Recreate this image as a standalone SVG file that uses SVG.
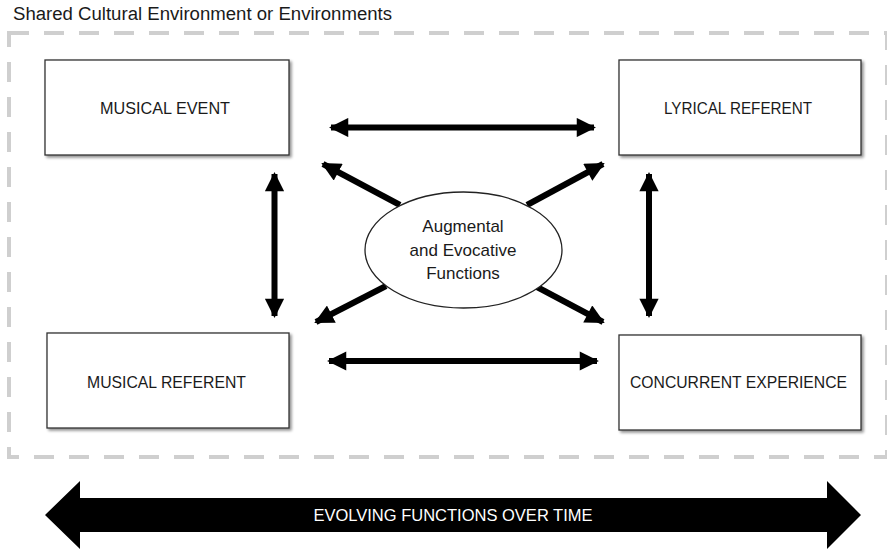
<svg xmlns="http://www.w3.org/2000/svg" width="887" height="550" viewBox="0 0 887 550">
<defs>
<filter id="sh" x="-10%" y="-10%" width="120%" height="130%">
<feGaussianBlur in="SourceAlpha" stdDeviation="1.5"/>
<feOffset dx="1.5" dy="1.5" result="b"/>
<feComponentTransfer><feFuncA type="linear" slope="0.45"/></feComponentTransfer>
<feMerge><feMergeNode/><feMergeNode in="SourceGraphic"/></feMerge>
</filter>
<marker id="ah" viewBox="0 0 10 10" refX="9" refY="5" markerWidth="3.3" markerHeight="3.2" orient="auto-start-reverse" markerUnits="strokeWidth">
<path d="M0,0 L10,5 L0,10 Z" fill="#000"/>
</marker>
</defs>
<style>
text{font-family:"Liberation Sans",Arial,sans-serif;fill:#1a1a1a}
.box{fill:#fff;stroke:#333;stroke-width:1.3;filter:url(#sh)}
.lbl{font-size:16.5px;text-anchor:middle}
.con{stroke:#000;stroke-width:6;fill:none;marker-start:url(#ah);marker-end:url(#ah)}
</style>
<rect width="887" height="550" fill="#fff"/>
<text x="13" y="20" font-size="18" textLength="379" lengthAdjust="spacingAndGlyphs">Shared Cultural Environment or Environments</text>
<rect id="environment" x="9" y="33" width="878" height="424" fill="none" stroke="#cfcfcf" stroke-width="4" stroke-dasharray="20 15"/>
<g id="connectors">
<line class="con" x1="331" y1="127.5" x2="594" y2="127.5"/>
<line class="con" x1="329" y1="361" x2="597" y2="361"/>
<line class="con" x1="274.5" y1="174" x2="274.5" y2="316"/>
<line class="con" x1="649" y1="174" x2="649" y2="316"/>
<line x1="400" y1="205" x2="323" y2="164" stroke="#000" stroke-width="6" marker-end="url(#ah)"/>
<line x1="527" y1="205" x2="603" y2="164" stroke="#000" stroke-width="6" marker-end="url(#ah)"/>
<line x1="386" y1="286" x2="316" y2="322" stroke="#000" stroke-width="6" marker-end="url(#ah)"/>
<line x1="537" y1="287" x2="603" y2="322" stroke="#000" stroke-width="6" marker-end="url(#ah)"/>
</g>
<g id="musical-event">
<rect class="box" x="45" y="60" width="244" height="95"/>
<text class="lbl" x="165" y="114" textLength="130" lengthAdjust="spacingAndGlyphs">MUSICAL EVENT</text>
</g>
<g id="lyrical-referent">
<rect class="box" x="619" y="60" width="242" height="95"/>
<text class="lbl" x="738" y="114" textLength="148" lengthAdjust="spacingAndGlyphs">LYRICAL REFERENT</text>
</g>
<g id="musical-referent">
<rect class="box" x="47" y="333" width="242" height="95"/>
<text class="lbl" x="166.5" y="388" textLength="159" lengthAdjust="spacingAndGlyphs">MUSICAL REFERENT</text>
</g>
<g id="concurrent-experience">
<rect class="box" x="619" y="335" width="242" height="95"/>
<text class="lbl" x="738.5" y="388" textLength="217" lengthAdjust="spacingAndGlyphs">CONCURRENT EXPERIENCE</text>
</g>
<g id="functions">
<ellipse cx="463.5" cy="250" rx="98.5" ry="58" fill="#fff" stroke="#222" stroke-width="1.3"/>
<text class="lbl" x="463" y="232" style="font-size:17px">Augmental</text>
<text class="lbl" x="463" y="256" style="font-size:17px">and Evocative</text>
<text class="lbl" x="463" y="279" style="font-size:17px">Functions</text>
</g>
<g id="evolving-functions">
<path d="M45,515 L80,481 L80,498 L827,498 L827,481 L861,515 L827,549 L827,532 L80,532 L80,549 Z" fill="#000"/>
<text x="453" y="521" font-size="16.5" text-anchor="middle" style="fill:#fff">EVOLVING FUNCTIONS OVER TIME</text>
</g>
</svg>
